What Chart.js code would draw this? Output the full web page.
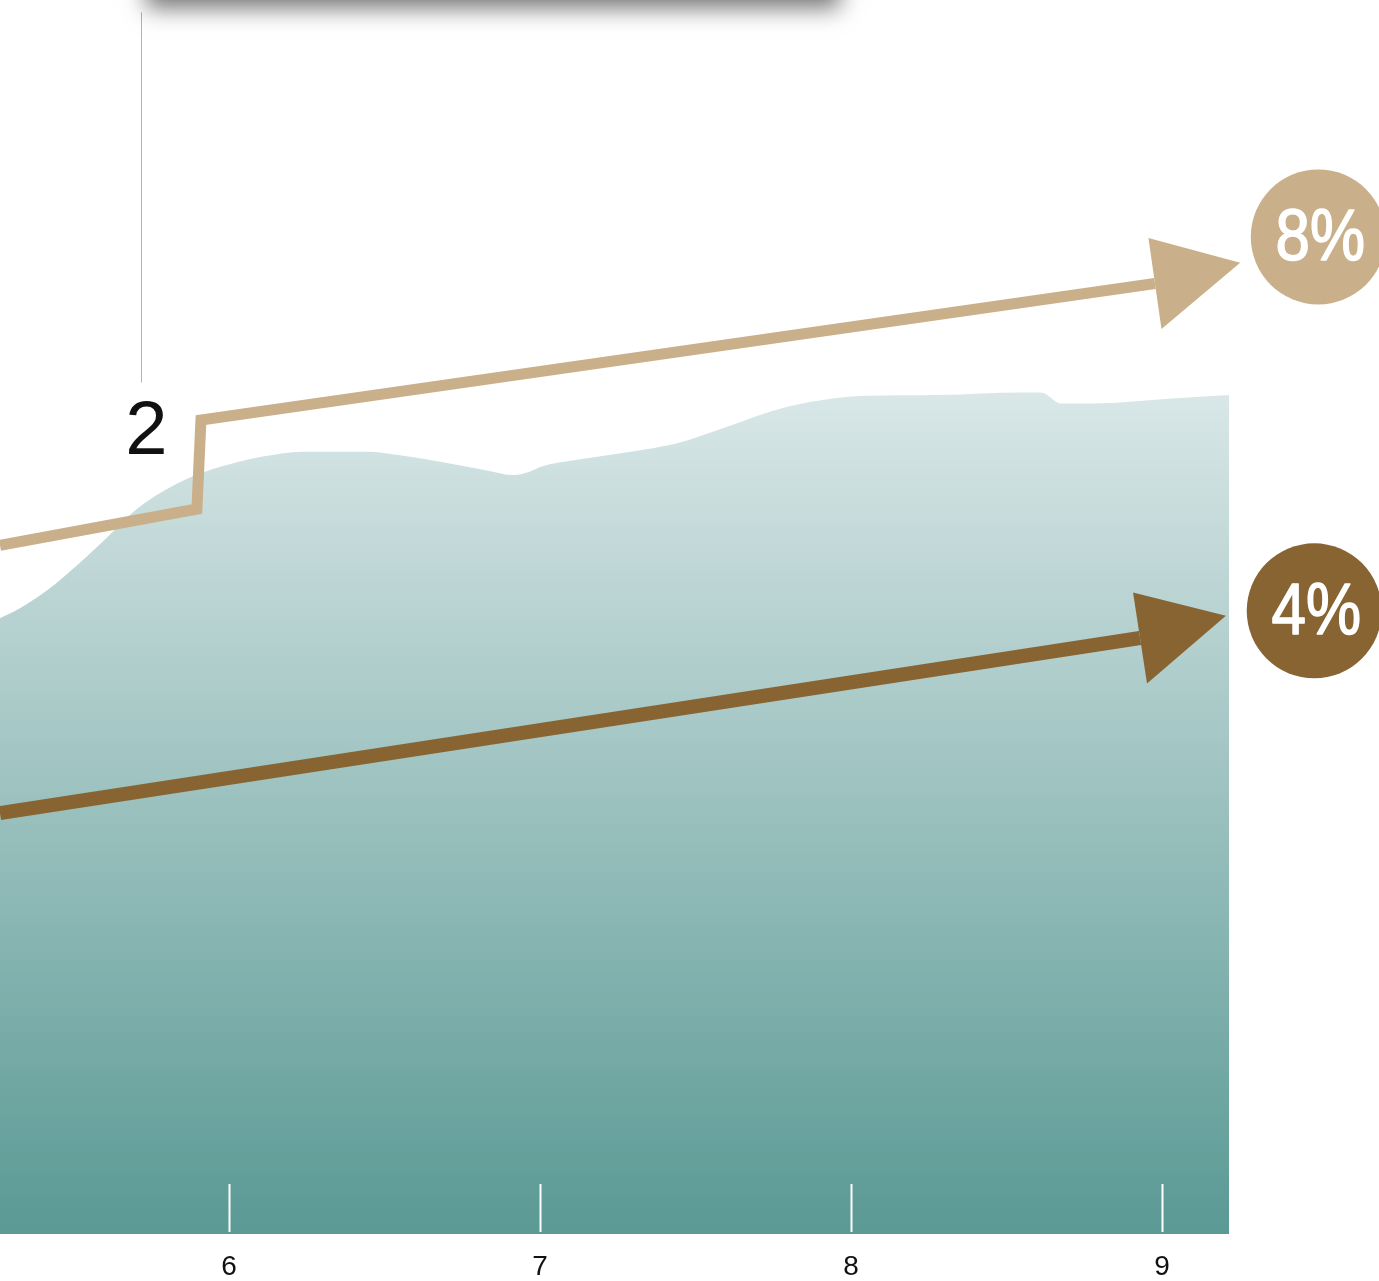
<!DOCTYPE html>
<html>
<head>
<meta charset="utf-8">
<script src="https://cdn.jsdelivr.net/npm/chart.js@4.4.0/dist/chart.umd.min.js"></script>
<style>
  html, body { margin: 0; padding: 0; background: #fff; }
  #wrap { width: 1379px; height: 1281px; }
</style>
</head>
<body>
<div id="wrap"><canvas id="chart" width="1379" height="1281"></canvas></div>
<script>
// x axis
const xTicks = [6, 7, 8, 9];
const xMin = 5.264, xMax = 9.215;

// teal area outline
const areaX = [5.264, 5.328, 5.418, 5.521, 5.598, 5.701, 5.810, 5.904, 6.035, 6.109, 6.238, 6.444, 6.550,
               6.826, 6.916, 6.968, 7.006, 7.109, 7.367, 7.444, 7.611, 7.775, 8.032, 8.289, 8.547, 8.611,
               8.675, 8.778, 9.032, 9.215];
const areaY = [49.9, 50.7, 52.2, 54.4, 56.2, 58.7, 60.5, 61.6, 62.6, 63.0, 63.4, 63.4, 63.1,
               61.9, 61.5, 61.8, 62.2, 62.7, 63.7, 64.1, 65.5, 66.9, 67.9, 68.0, 68.2, 68.2,
               67.3, 67.3, 67.7, 68.0];

// light (tan) step line ending in an arrow
const tanX = [5.264, 5.897, 5.910, 8.977];
const tanY = [55.8, 58.75, 65.96, 77.03];
const tanTip = [9.251, 78.7];

// dark (brown) line ending in an arrow
const brownX = [5.264, 8.929];
const brownY = [34.1, 48.3];
const brownTip = [9.205, 50.1];

// round badges at the arrow ends
const badgeLabels = ['8%', '4%'];
const badgeX = [9.502, 9.489];
const badgeY = [80.8, 50.5];

// vertical marker
const markerLabel = '2';
const markerX = 5.717;
const markerTop = 99.0, markerBottom = 69.0;

const TAN = '#c9b08a';
const BROWN = '#876431';

const toPts = (xs, ys) => xs.map((x, i) => ({ x, y: ys[i] }));

const overlay = {
  id: 'overlay',
  afterDatasetsDraw(chart) {
    const { ctx, scales: { x, y }, chartArea } = chart;
    ctx.save();

    // white tick marks inside the area
    ctx.strokeStyle = '#ffffff';
    ctx.lineWidth = 2;
    xTicks.forEach(v => {
      const px = Math.round(x.getPixelForValue(v)) + 0.5;
      ctx.beginPath();
      ctx.moveTo(px, chartArea.bottom - 50);
      ctx.lineTo(px, chartArea.bottom - 2);
      ctx.stroke();
    });

    // arrowheads
    const arrow = (xs, ys, tip, color) => {
      const n = xs.length;
      const x0 = x.getPixelForValue(xs[n - 2]), y0 = y.getPixelForValue(ys[n - 2]);
      const x1 = x.getPixelForValue(xs[n - 1]), y1 = y.getPixelForValue(ys[n - 1]);
      const len = Math.hypot(x1 - x0, y1 - y0);
      const dx = (x1 - x0) / len, dy = (y1 - y0) / len;
      const half = 46;
      ctx.fillStyle = color;
      ctx.beginPath();
      ctx.moveTo(x1 + dy * half, y1 - dx * half);
      ctx.lineTo(x.getPixelForValue(tip[0]), y.getPixelForValue(tip[1]));
      ctx.lineTo(x1 - dy * half, y1 + dx * half);
      ctx.closePath();
      ctx.fill();
    };
    arrow(tanX, tanY, tanTip, TAN);
    arrow(brownX, brownY, brownTip, BROWN);

    // badges
    const badgeColors = [TAN, BROWN];
    badgeLabels.forEach((txt, i) => {
      const cx = x.getPixelForValue(badgeX[i]);
      const cy = y.getPixelForValue(badgeY[i]);
      ctx.fillStyle = badgeColors[i];
      ctx.beginPath();
      ctx.arc(cx, cy, 67.5, 0, Math.PI * 2);
      ctx.fill();
      ctx.save();
      ctx.translate(cx + 2, cy + 3);
      ctx.scale(0.86, 1);
      ctx.fillStyle = '#ffffff';
      ctx.strokeStyle = '#ffffff';
      ctx.lineWidth = 1.6;
      ctx.lineJoin = 'round';
      ctx.font = '72px "Liberation Sans", Arial, sans-serif';
      ctx.textAlign = 'center';
      ctx.textBaseline = 'middle';
      ctx.fillText(txt, 0, 0);
      ctx.strokeText(txt, 0, 0);
      ctx.restore();
    });

    // marker line + label
    const mx = Math.round(x.getPixelForValue(markerX)) + 0.5;
    const mTop = y.getPixelForValue(markerTop);
    const mBot = y.getPixelForValue(markerBottom);
    ctx.strokeStyle = '#b4b4b4';
    ctx.lineWidth = 1;
    ctx.beginPath();
    ctx.moveTo(mx, mTop);
    ctx.lineTo(mx, mBot);
    ctx.stroke();
    ctx.fillStyle = '#111111';
    ctx.font = '76px "Liberation Sans", Arial, sans-serif';
    ctx.textAlign = 'center';
    ctx.textBaseline = 'alphabetic';
    ctx.fillText(markerLabel, mx + 5, mBot + 71);

    // shadowed panel cut off at the top
    ctx.shadowColor = 'rgba(0,0,0,0.55)';
    ctx.shadowBlur = 22;
    ctx.shadowOffsetY = 8;
    ctx.fillStyle = '#ffffff';
    ctx.fillRect(146, -80, 694, 80);

    ctx.restore();
  }
};

new Chart(document.getElementById('chart'), {
  type: 'line',
  data: {
    datasets: [
      {
        label: 'tan',
        data: toPts(tanX, tanY),
        borderColor: TAN,
        borderWidth: 11,
        borderJoinStyle: 'miter',
        borderCapStyle: 'butt',
        pointRadius: 0,
        tension: 0,
        fill: false,
        clip: false,
        order: 1
      },
      {
        label: 'brown',
        data: toPts(brownX, brownY),
        borderColor: BROWN,
        borderWidth: 14,
        borderCapStyle: 'butt',
        pointRadius: 0,
        tension: 0,
        fill: false,
        clip: false,
        order: 2
      },
      {
        label: 'area',
        data: toPts(areaX, areaY),
        borderWidth: 0,
        borderColor: 'rgba(0,0,0,0)',
        pointRadius: 0,
        cubicInterpolationMode: 'monotone',
        fill: 'origin',
        backgroundColor(c) {
          const chart = c.chart;
          const area = chart.chartArea;
          if (!area) return '#9cc3c1';
          const top = chart.scales.y.getPixelForValue(Math.max(...areaY));
          const g = chart.ctx.createLinearGradient(0, top, 0, area.bottom);
          g.addColorStop(0, '#d9e7e7');
          g.addColorStop(1, '#5a9994');
          return g;
        },
        order: 10
      }
    ]
  },
  options: {
    responsive: false,
    animation: false,
    devicePixelRatio: 1,
    layout: { padding: { left: 0, right: 150, top: 0, bottom: 0 } },
    plugins: { legend: { display: false }, tooltip: { enabled: false } },
    scales: {
      x: {
        type: 'linear',
        min: xMin,
        max: xMax,
        grid: { display: false, drawTicks: false },
        border: { display: false },
        afterBuildTicks(s) { s.ticks = xTicks.map(v => ({ value: v })); },
        afterFit(s) { s.height = 47; },
        ticks: {
          padding: 19,
          color: '#111',
          font: { family: '"Liberation Sans", Arial, sans-serif', size: 28, lineHeight: 1 }
        }
      },
      y: {
        display: false,
        min: 0,
        max: 100
      }
    }
  },
  plugins: [overlay]
});
</script>
</body>
</html>
